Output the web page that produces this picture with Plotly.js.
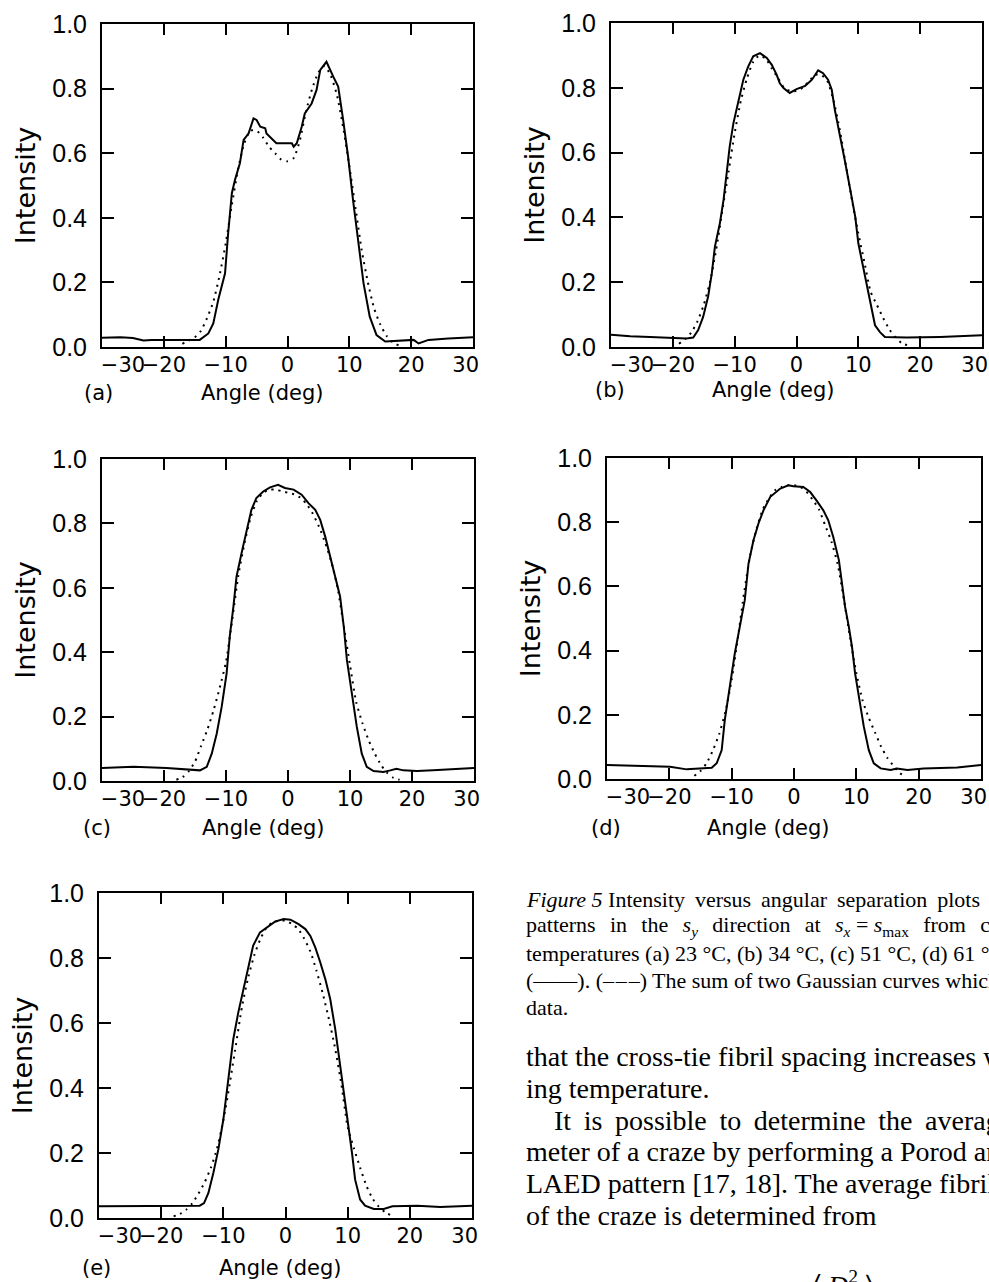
<!DOCTYPE html>
<html><head><meta charset="utf-8">
<script src="https://cdn.plot.ly/plotly-3.0.1.min.js"></script>
<style>html,body{margin:0;padding:0;background:#fff}</style>
</head><body><div id="chart" style="width:989px;height:1282px"></div>
<script>
// ---------- DATA ----------
// (a) 23 °C
const angleA = [-30,-27,-25,-23.3,-22,-18,-14.2,-12.8,-12.0,-11.2,-10.1,-9.6,-9.0,-8.5,-7.7,-7.1,-6.3,-5.5,-5.0,-4.4,-3.6,-3.4,-2.6,-1.8,-0.1,0.7,1.0,1.5,2.3,2.8,3.9,4.7,5.3,6.3,7.4,8.2,9.0,9.8,10.6,11.5,12.3,13.3,14.4,15.8,18.2,20.4,21.2,22.0,22.8,26,30];
const measA  = [0.029,0.030,0.028,0.020,0.022,0.022,0.022,0.042,0.073,0.146,0.228,0.352,0.476,0.517,0.569,0.641,0.661,0.708,0.703,0.682,0.677,0.661,0.646,0.631,0.631,0.631,0.620,0.631,0.682,0.723,0.754,0.796,0.858,0.883,0.837,0.806,0.703,0.589,0.455,0.321,0.197,0.094,0.037,0.017,0.020,0.022,0.011,0.017,0.022,0.026,0.030];
const fitAngleA = [-17,-16,-15,-14,-13,-12,-11,-10,-9,-8,-7,-6,-5,-4,-3,-2,-1,0,1,2,3,4,5,6,7,8,9,10,11,12,13,14,15,16,17,18];
const fitA = [0.01,0.02,0.03,0.05,0.09,0.14,0.22,0.32,0.44,0.55,0.63,0.67,0.67,0.65,0.62,0.60,0.58,0.575,0.585,0.64,0.73,0.80,0.85,0.87,0.84,0.78,0.68,0.56,0.43,0.30,0.20,0.12,0.07,0.035,0.015,0.005];

// (b) 34 °C
const angleB = [-30,-26.9,-23.7,-19.9,-17.8,-16.7,-15.9,-15.1,-14.3,-13.7,-13.2,-12.4,-11.8,-11.3,-10.8,-10.2,-9.4,-8.6,-7.8,-7.0,-5.9,-4.8,-4.0,-3.2,-2.7,-2.1,-1.1,0.0,1.4,2.5,3.5,4.3,5.1,5.7,6.2,7.0,7.8,8.7,9.5,10.0,10.8,11.6,12.7,13.5,14.3,17.8,23.2,30];
const measB  = [0.038,0.033,0.031,0.029,0.026,0.029,0.052,0.093,0.155,0.227,0.309,0.381,0.454,0.536,0.619,0.691,0.763,0.825,0.866,0.897,0.907,0.892,0.871,0.840,0.814,0.799,0.784,0.796,0.806,0.825,0.854,0.845,0.825,0.794,0.732,0.660,0.577,0.485,0.402,0.320,0.247,0.165,0.067,0.046,0.031,0.029,0.031,0.036];
const fitAngleB = [-19,-18,-17,-16,-15,-14,-13,-12,-11,-10,-9,-8,-7,-6,-5,-4,-3,-2,-1,0,1,2,3,4,5,6,7,8,9,10,11,12,13,14,15,16,17,18];
const fitB = [0.01,0.025,0.045,0.08,0.13,0.20,0.30,0.42,0.54,0.66,0.76,0.83,0.88,0.90,0.89,0.86,0.83,0.80,0.79,0.79,0.80,0.82,0.84,0.84,0.82,0.76,0.67,0.56,0.45,0.35,0.26,0.17,0.13,0.09,0.055,0.03,0.012,0.005];

// (c) 51 °C
const angleC = [-30,-24.9,-19.6,-16.3,-14.2,-13.1,-12.3,-11.5,-10.7,-9.9,-9.4,-8.8,-8.3,-7.5,-6.7,-5.9,-5.1,-4.0,-2.9,-1.6,-0.5,0.9,2.2,3.3,4.4,5.2,6.0,6.8,7.6,8.4,9.0,9.5,10.3,11.1,11.9,12.7,13.8,15.4,16.5,17.5,18.6,20.8,23.4,30];
const measC  = [0.040,0.044,0.040,0.035,0.033,0.044,0.085,0.147,0.230,0.334,0.448,0.542,0.635,0.707,0.780,0.842,0.879,0.899,0.912,0.920,0.910,0.905,0.889,0.863,0.842,0.811,0.759,0.697,0.635,0.573,0.479,0.376,0.272,0.168,0.085,0.044,0.031,0.028,0.033,0.038,0.033,0.031,0.033,0.040];
const fitAngleC = [-18,-17,-16,-15,-14,-13,-12,-11,-10,-9,-8,-7,-6,-5,-4,-3,-2,-1,0,1,2,3,4,5,6,7,8,9,10,11,12,13,14,15,16,17,18];
const fitC = [0.004,0.012,0.03,0.06,0.11,0.16,0.22,0.29,0.37,0.50,0.64,0.74,0.82,0.87,0.895,0.905,0.905,0.90,0.895,0.89,0.88,0.86,0.83,0.79,0.74,0.68,0.60,0.48,0.36,0.245,0.18,0.127,0.085,0.05,0.025,0.01,0.004];

// (d) 61 °C
const angleD = [-30,-24.8,-19.9,-17.2,-15.1,-13.2,-12.4,-11.6,-11.1,-10.3,-9.5,-8.7,-7.9,-7.3,-6.5,-5.7,-4.9,-3.8,-2.2,-0.9,-0.1,1.5,2.6,3.6,4.7,5.5,6.3,7.2,7.7,8.2,8.8,9.3,9.8,10.4,11.2,12.0,12.8,13.9,15.5,16.5,18.2,20.8,26.2,30];
const measD  = [0.044,0.040,0.038,0.030,0.033,0.035,0.049,0.090,0.184,0.287,0.391,0.474,0.557,0.671,0.744,0.796,0.837,0.879,0.905,0.915,0.912,0.910,0.894,0.868,0.837,0.806,0.754,0.682,0.609,0.536,0.474,0.412,0.329,0.256,0.163,0.090,0.049,0.033,0.028,0.033,0.028,0.033,0.036,0.044];
const fitAngleD = [-16,-15,-14,-13,-12,-11,-10,-9,-8,-7,-6,-5,-4,-3,-2,-1,0,1,2,3,4,5,6,7,8,9,10,11,12,13,14,15,16,17,18];
const fitD = [0.01,0.025,0.05,0.09,0.14,0.21,0.31,0.44,0.58,0.70,0.78,0.84,0.875,0.90,0.91,0.915,0.915,0.91,0.895,0.87,0.84,0.79,0.74,0.67,0.56,0.44,0.33,0.245,0.19,0.145,0.10,0.065,0.04,0.018,0.008];

// (e)
const angleE = [-30,-24.5,-19.1,-13.8,-13.1,-12.4,-11.6,-10.8,-10.0,-9.5,-8.9,-8.4,-7.6,-6.8,-6.0,-5.2,-4.1,-3.0,-1.7,-0.3,0.8,2.1,3.2,4.0,4.8,5.6,6.4,7.2,8.0,8.8,9.4,9.9,10.7,11.2,12.0,12.8,14.2,15.8,17.2,21.2,24.9,30];
const measE  = [0.036,0.036,0.036,0.038,0.046,0.077,0.139,0.211,0.303,0.385,0.468,0.550,0.632,0.704,0.776,0.838,0.879,0.894,0.912,0.920,0.918,0.904,0.889,0.868,0.832,0.786,0.735,0.673,0.581,0.468,0.385,0.303,0.200,0.118,0.057,0.038,0.028,0.028,0.036,0.038,0.034,0.038];
const fitAngleE = [-18,-17,-16,-15,-14,-13,-12,-11,-10,-9,-8,-7,-6,-5,-4,-3,-2,-1,0,1,2,3,4,5,6,7,8,9,10,11,12,13,14,15,16,17];
const fitE = [0.005,0.012,0.025,0.045,0.075,0.11,0.155,0.215,0.30,0.41,0.53,0.65,0.74,0.81,0.86,0.895,0.91,0.915,0.915,0.905,0.89,0.86,0.82,0.76,0.69,0.61,0.52,0.41,0.28,0.215,0.155,0.10,0.06,0.035,0.018,0.008];

const panelLetters = ['(a)','(b)','(c)','(d)','(e)'];
const xTickVals = [-30,-20,-10,0,10,20,30];
const xTickText = ['\u2003\u2003\u221230','\u221220','\u221210','0','10','20','30\u2002\u2009'];
const yTickVals = [0,0.2,0.4,0.6,0.8,1.0];
const xTitle = 'Angle (deg)';
const yTitle = 'Intensity';

const series = [
  {ang: angleA, meas: measA, fx: fitAngleA, fy: fitA},
  {ang: angleB, meas: measB, fx: fitAngleB, fy: fitB},
  {ang: angleC, meas: measC, fx: fitAngleC, fy: fitC},
  {ang: angleD, meas: measD, fx: fitAngleD, fy: fitD},
  {ang: angleE, meas: measE, fx: fitAngleE, fy: fitE}
];

// ---------- LAYOUT ----------
const W = 989, H = 1282;
// plot boxes in pixels: [left, right, top, bottom]
const boxes = [[102,473,24,347],[611,982,23,347],[102,474,459,781],[607,981,458,779],[99,472,893,1218]];
// sub-label positions [letter x, title x, y]
const labelPos = [[98,262,393],[610,773,390],[97,263,828],[606,768,828],[96,280,1268]];
const fx = p => p / W, fy = p => 1 - p / H;

const layout = {
  width: W, height: H,
  margin: {l:0, r:0, t:0, b:0},
  paper_bgcolor: '#fff', plot_bgcolor: '#fff',
  showlegend: false,
  annotations: []
};
const traces = [];

series.forEach((s, i) => {
  const n = i === 0 ? '' : String(i + 1);
  const b = boxes[i];
  layout['xaxis' + n] = {
    domain: [fx(b[0]), fx(b[1])], anchor: 'y' + n,
    range: [-30, 30], tickmode: 'array', tickvals: xTickVals, ticktext: xTickText,
    tickangle: 0, ticklabeloverflow: 'allow',
    ticks: 'inside', ticklen: 11, tickwidth: 2, tickcolor: '#000',
    showline: true, linewidth: 2, linecolor: '#000', mirror: 'ticks',
    showgrid: false, zeroline: false, fixedrange: true,
    ticklabelstandoff: -2,
    tickfont: {family: 'DejaVu Sans', size: 21, color: '#000'}
  };
  layout['yaxis' + n] = {
    domain: [fy(b[3]), fy(b[2])], anchor: 'x' + n,
    range: [0, 1], tickmode: 'array', tickvals: yTickVals, tickformat: '.1f',
    ticklabeloverflow: 'allow',
    ticks: 'inside', ticklen: 12, tickwidth: 2, tickcolor: '#000',
    showline: true, linewidth: 2, linecolor: '#000', mirror: 'ticks',
    showgrid: false, zeroline: false, fixedrange: true,
    ticklabelstandoff: 8,
    tickfont: {family: 'Liberation Sans', size: 25, color: '#000'},
    title: {text: yTitle, standoff: 9, font: {family: 'DejaVu Sans', size: 27, color: '#000'}}
  };
  traces.push({
    x: s.fx, y: s.fy, mode: 'lines', xaxis: 'x' + n, yaxis: 'y' + n,
    line: {color: '#000', width: 2, dash: '2px,5px', shape: 'spline', smoothing: 0.6},
    hoverinfo: 'skip', name: 'Gaussian fit'
  });
  traces.push({
    x: s.ang, y: s.meas, mode: 'lines', xaxis: 'x' + n, yaxis: 'y' + n,
    line: {color: '#000', width: 2},
    hoverinfo: 'skip', name: 'measured'
  });
  const lp = labelPos[i];
  const lf = {family: 'DejaVu Sans', size: 21, color: '#000'};
  layout.annotations.push({xref:'paper', yref:'paper', x: fx(lp[0]), y: fy(lp[2]), xanchor:'center', yanchor:'middle', showarrow:false, text: panelLetters[i], font: lf});
  layout.annotations.push({xref:'paper', yref:'paper', x: fx(lp[1]), y: fy(lp[2]), xanchor:'center', yanchor:'middle', showarrow:false, text: xTitle, font: lf});
});

// caption and body text (right column)
const captionLines = [
  '<i>Figure 5</i> Intensity\u2009 versus\u2009 angular\u2009 separation\u2009 plots',
  'patterns\u2009\u2009 in\u2009\u2009 the\u2009\u2009 <i>s</i><sub><i>y</i></sub>\u2009\u2009 direction\u2009\u2009 at\u2009\u2009 <i>s</i><sub><i>x</i></sub> = <i>s</i><sub>max</sub>\u2009\u2009 from\u2009\u2009 crazes',
  'temperatures (a) 23 °C, (b) 34 °C, (c) 51 °C, (d) 61 °C',
  '(\u2014\u2014). (\u2013\u200a\u2013\u200a\u2013) The sum of two Gaussian curves which',
  'data.'
];
const captionY = [899, 926, 953, 980, 1007];
captionLines.forEach((t, k) => layout.annotations.push({
  xref:'paper', yref:'paper', x: fx(524), y: fy(captionY[k]), xanchor:'left', yanchor:'middle',
  showarrow:false, text: t, align:'left', font:{family:'Liberation Serif', size:22, color:'#000'}
}));
const bodyLines = [
  'that the cross-tie fibril spacing increases with',
  'ing temperature.',
  '\u2002\u2002It\u2009 is\u2009 possible\u2009 to\u2009 determine\u2009 the\u2009 average',
  'meter of a craze by performing a Porod analysis',
  'LAED pattern [17, 18]. The average fibril',
  'of the craze is determined from'
];
const bodyY = [1056, 1088, 1120, 1151, 1183, 1215];
bodyLines.forEach((t, k) => layout.annotations.push({
  xref:'paper', yref:'paper', x: fx(524), y: fy(bodyY[k]), xanchor:'left', yanchor:'middle',
  showarrow:false, text: t, align:'left', font:{family:'Liberation Serif', size:28, color:'#000'}
}));
layout.annotations.push({
  xref:'paper', yref:'paper', x: fx(843), y: fy(1264), xanchor:'center', yanchor:'top',
  showarrow:false, text: '\u2329 <i>D</i><sup>2</sup> \u232A', font:{family:'Liberation Serif', size:28, color:'#000'}
});

Plotly.newPlot('chart', traces, layout, {staticPlot: true, displayModeBar: false});
</script>
</body></html>
